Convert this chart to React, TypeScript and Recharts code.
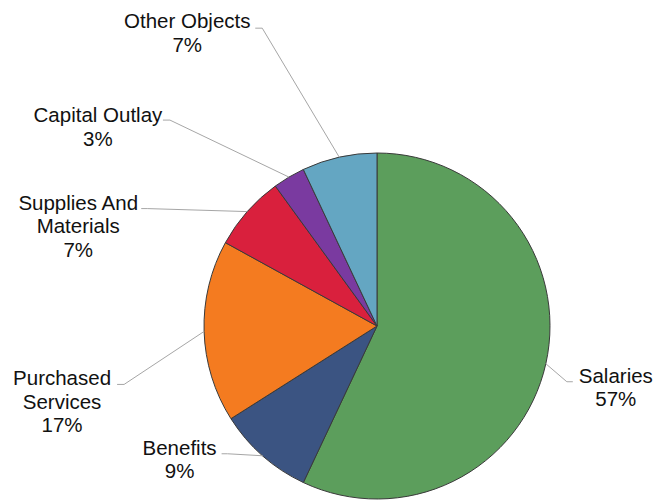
import React from "react";
import { PieChart, Pie, Cell } from "recharts";

const categories = [
  "Salaries",
  "Benefits",
  "Purchased Services",
  "Supplies And Materials",
  "Capital Outlay",
  "Other Objects",
];
const values = [57, 9, 17, 7, 3, 7];
const labelLines = [
  ["Salaries"],
  ["Benefits"],
  ["Purchased", "Services"],
  ["Supplies And", "Materials"],
  ["Capital Outlay"],
  ["Other Objects"],
];
const colors = ["#5c9e5c", "#3b5482", "#f47b20", "#d9203d", "#7a3aa0", "#64a6c2"];

// label layout: offsets relative to the slice's outer-edge mid point
// [textCenterDx, baselineDy, lineStartDx, lineStartDy, elbowDx]
const labelLayout = [
  [70, 19, 27, 18, -6],
  [-83, -1, -41, -2, 6],
  [-142, 54, -87, 53, 7],
  [-169, -2, -106, -3, 6],
  [-191, -55, -126, -57, 7],
  [-152, -129, -84, -129, 7],
];

const data = categories.map((name, i) => ({ name, value: values[i] }));

const RAD = Math.PI / 180;
const FONT = "'Liberation Sans', Arial, sans-serif";

const renderLabel = (props: any) => {
  const { cx, cy, midAngle, outerRadius, index, value } = props;
  const ex = cx + outerRadius * Math.cos(-midAngle * RAD);
  const ey = cy + outerRadius * Math.sin(-midAngle * RAD);
  const [tdx, tdy, ldx, ldy, edx] = labelLayout[index];
  const tx = ex + tdx;
  const ty = ey + tdy;
  const ax = ex + ldx;
  const ay = ey + ldy;
  const bx = ax + edx;
  const lines = [...labelLines[index], `${value}%`];
  return (
    <g>
      <polyline
        points={`${ax},${ay} ${bx},${ay} ${ex},${ey}`}
        fill="none"
        stroke="#a6a6a6"
        strokeWidth={1}
      />
      <text
        x={tx}
        y={ty}
        textAnchor="middle"
        fill="#111"
        fontFamily={FONT}
        fontSize={20.5}
      >
        {lines.map((l, k) => (
          <tspan key={k} x={tx} y={ty + k * 23.5}>
            {l}
          </tspan>
        ))}
      </text>
    </g>
  );
};

export default function App() {
  return (
    <div style={{ position: "absolute", left: 0, top: 0, background: "#fff" }}>
      <PieChart width={656} height={502} margin={{ top: 0, right: 0, bottom: 0, left: 0 }}>
        <Pie
          data={data}
          dataKey="value"
          nameKey="name"
          cx={377}
          cy={326}
          outerRadius={173}
          startAngle={90}
          endAngle={-270}
          stroke="#3a3a3a"
          strokeWidth={1}
          label={renderLabel}
          labelLine={false}
          isAnimationActive={false}
        >
          {data.map((d, i) => (
            <Cell key={d.name} fill={colors[i]} />
          ))}
        </Pie>
      </PieChart>
    </div>
  );
}
